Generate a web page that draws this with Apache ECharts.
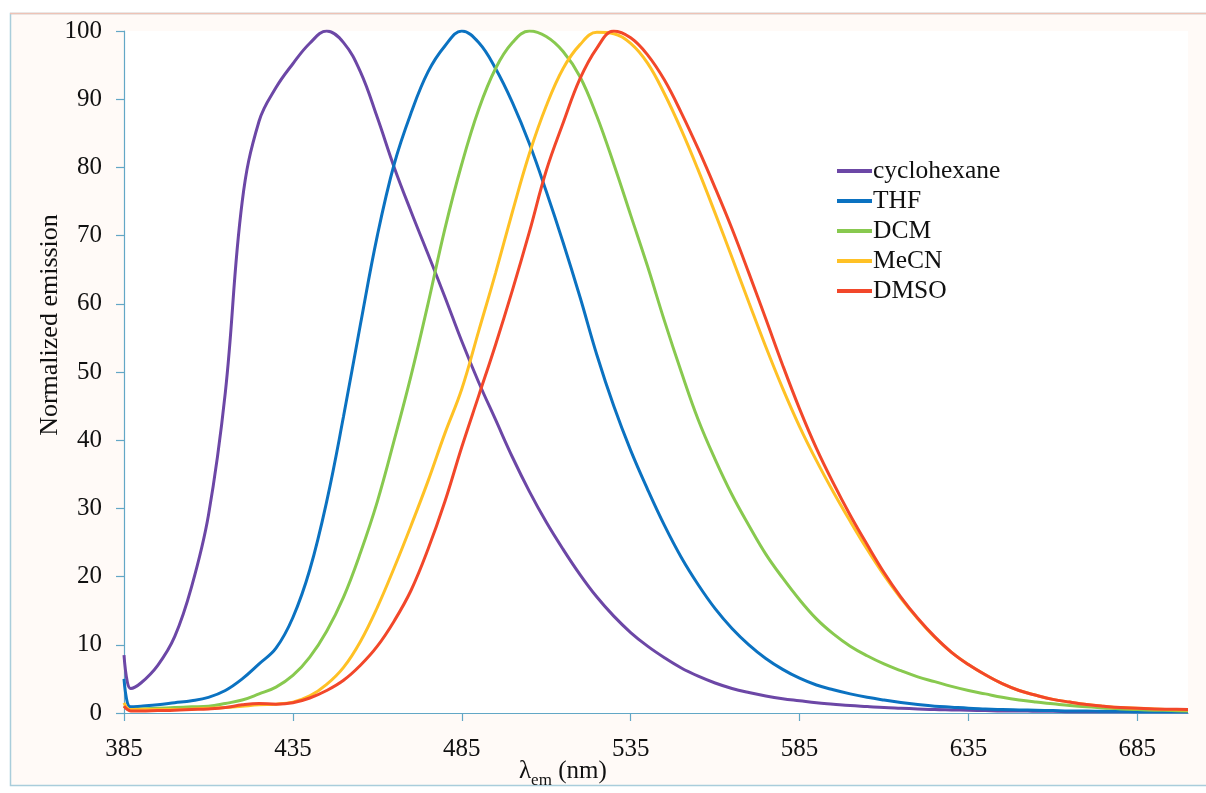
<!DOCTYPE html>
<html>
<head>
<meta charset="utf-8">
<script src="https://cdn.jsdelivr.net/npm/echarts@6/dist/echarts.min.js"></script>
<style>
html,body{margin:0;padding:0;background:#ffffff;}
#chart{width:1206px;height:793px;}
</style>
</head>
<body>
<div id="chart"></div>
<script>
// wavelength grid (nm)
const wavelengths = [385,386,387,390,395,400,405,410,415,420,425,430,435,440,445,450,455,460,465,470,475,480,485,490,495,500,505,510,515,520,525,530,535,540,545,550,555,560,565,570,575,580,585,590,595,600,605,610,615,620,625,630,635,640,645,650,655,660,665,670,675,680,685,690,695,700];

const cyclohexane = [8.5,4.5,3.6,4.4,7.0,11.2,18.5,29,47,75,86.8,91.7,95.2,98.2,100,98.3,94,87.3,80,73.5,67.3,61,54.5,48.5,43,37.5,32.5,28,24,20.3,17,14.2,11.8,9.8,8.1,6.6,5.4,4.4,3.6,3.0,2.5,2.1,1.8,1.5,1.3,1.1,0.95,0.8,0.7,0.6,0.5,0.45,0.4,0.35,0.3,0.3,0.25,0.25,0.2,0.2,0.2,0.2,0.2,0.2,0.2,0.2];

const thf = [5,1.5,0.9,1.0,1.2,1.5,1.8,2.3,3.3,5.0,7.2,9.5,14,21,31,43.5,57,70,80.5,88,94,97.8,100,98.3,94.5,89.5,83.5,76.5,69,61,52.5,45,38.5,32.8,27.5,22.8,18.8,15.3,12.4,10,8,6.4,5.1,4.1,3.4,2.8,2.3,1.9,1.55,1.25,1.0,0.85,0.7,0.6,0.5,0.45,0.4,0.35,0.3,0.3,0.25,0.25,0.2,0.2,0.2,0.2];

const dcm = [1.0,0.6,0.5,0.6,0.7,0.8,0.9,1.0,1.4,1.9,2.8,3.8,5.5,8.2,12,17,23.5,31,40,49.5,60,71,80.5,88.5,94.5,98.3,100,99.2,97,93.3,87.5,80.5,73,65.5,57.5,50,43,37.2,32,27.5,23.3,19.8,16.6,13.8,11.6,9.8,8.4,7.2,6.2,5.3,4.6,3.9,3.3,2.8,2.3,1.9,1.6,1.35,1.1,0.9,0.75,0.6,0.5,0.42,0.36,0.3];

const mecn = [1.5,0.7,0.5,0.5,0.5,0.5,0.6,0.7,0.8,1.0,1.2,1.3,1.6,2.5,4.2,6.7,10.5,15.5,21.3,27.5,34,41,47.5,56,64.5,73.5,82,89,94.5,98,99.8,99.6,98.2,95.3,90.8,85.5,79.6,73.3,66.8,60.2,53.7,47.6,42,37,32.4,28.1,24,20.2,16.8,13.8,11.1,8.9,7.1,5.6,4.3,3.3,2.6,2.0,1.6,1.25,1.0,0.8,0.7,0.6,0.5,0.45];

const dmso = [1.0,0.5,0.3,0.3,0.35,0.4,0.5,0.6,0.8,1.2,1.4,1.3,1.5,2.2,3.3,4.8,7.0,9.8,13.5,18,24,31,39,46.5,54,62,70.5,79.5,86.5,93,97.5,100,99,96.5,92.8,88,82.7,77,71,64.5,57.8,51,44.6,38.8,33.7,29,24.7,20.6,17,13.9,11.2,8.9,7.1,5.6,4.3,3.3,2.6,2.0,1.6,1.25,1.0,0.8,0.7,0.6,0.55,0.5];

const seriesNames = ['cyclohexane','THF','DCM','MeCN','DMSO'];
const seriesValues = [cyclohexane, thf, dcm, mecn, dmso];
const seriesColors = ['#6c47a6','#0b72c1','#88c94f','#ffc125','#f2472a'];

const xTicks = [385,435,485,535,585,635,685];
const yTicks = [0,10,20,30,40,50,60,70,80,90,100];

const axisColor = '#62a7c6';
const serif = '"Liberation Serif","Times New Roman",serif';
const textColor = '#111111';

const chart = echarts.init(document.getElementById('chart'), null, {renderer:'canvas'});

const series = seriesNames.map((name, i) => ({
  name: name,
  type: 'line',
  data: wavelengths.map((w, k) => [w, seriesValues[i][k]]),
  showSymbol: false,
  smooth: 0.4,
  lineStyle: {width: 3, color: seriesColors[i]},
  itemStyle: {color: seriesColors[i]},
  emphasis: {disabled: true},
  z: 2 + i
}));

chart.setOption({
  animation: false,
  backgroundColor: '#ffffff',
  graphic: [
    {type:'rect', z: -10, shape:{x:10.5, y:13.5, width:1210, height:772}, style:{fill:'#fffaf7', stroke:'#a9cddb', lineWidth:1.5}},
    {type:'line', z: -9, shape:{x1:10, y1:13.5, x2:1206, y2:13.5}, style:{stroke:'#eec3b6', lineWidth:1.5}},
    {type:'text', z: 10, x: 50, y: 325, rotation: Math.PI/2,
      style:{text:'Normalized emission', font: '26px ' + serif, fill:textColor, textAlign:'center', textVerticalAlign:'middle'}},
    {type:'text', z: 10, x: 519, y: 756,
      style:{text:'{l|λ}{s|em}{l| (nm)}', fill:textColor,
        rich:{
          l:{fontSize:25, fontFamily:serif, lineHeight:28, verticalAlign:'bottom', fill:textColor},
          s:{fontSize:17, fontFamily:serif, lineHeight:16, verticalAlign:'bottom', fill:textColor, padding:[0,0,-5,0]}
        }}}
  ],
  legend: {
    orient: 'vertical',
    left: 832,
    top: 153,
    icon: 'rect',
    itemWidth: 35,
    itemHeight: 4,
    itemGap: 4,
    textStyle: {fontFamily: serif, fontSize: 25.5, lineHeight: 26, color:textColor, padding:[0,0,0,-4]},
    data: seriesNames
  },
  grid: {left: 124, right: 18, top: 31, bottom: 80, show: true, backgroundColor: '#ffffff', borderWidth: 0},
  xAxis: {
    type: 'value',
    min: 385,
    max: 700,
    interval: 50,
    splitLine: {show:false},
    axisLine: {show:true, onZero:false, lineStyle:{color:axisColor, width:1.2}},
    axisTick: {show:true, inside:false, length:8, lineStyle:{color:axisColor, width:1.2}, customValues: xTicks},
    axisLabel: {margin: 24, fontFamily: serif, fontSize: 25, color:textColor, customValues: xTicks}
  },
  yAxis: {
    type: 'value',
    min: 0,
    max: 100,
    interval: 10,
    splitLine: {show:false},
    axisLine: {show:true, lineStyle:{color:axisColor, width:1.2}},
    axisTick: {show:true, inside:false, length:8, lineStyle:{color:axisColor, width:1.2}, customValues: yTicks},
    axisLabel: {margin: 22, fontFamily: serif, fontSize: 25, color:textColor, customValues: yTicks}
  },
  series: series
});
</script>
</body>
</html>
